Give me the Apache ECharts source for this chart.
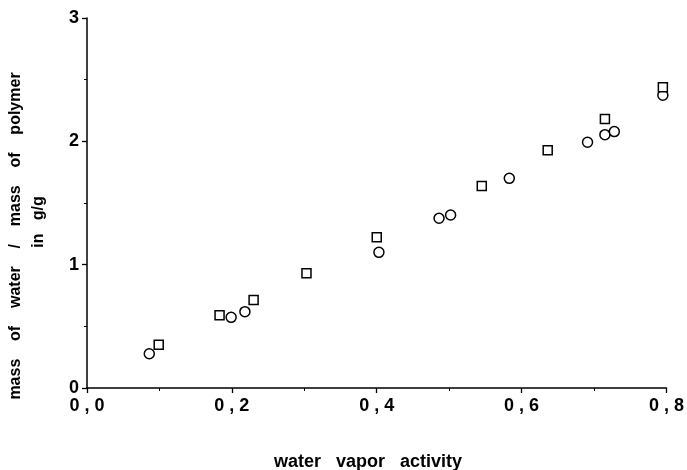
<!DOCTYPE html>
<html>
<head>
<meta charset="utf-8">
<script src="https://cdn.jsdelivr.net/npm/echarts@6/dist/echarts.min.js"></script>
<style>html,body{margin:0;padding:0;background:#fff;}#c{width:687px;height:470px;}</style>
</head>
<body>
<div id="c"></div>
<script>
// Circles series
var circleX = [0.086, 0.199, 0.218, 0.403, 0.486, 0.502, 0.583, 0.691, 0.715, 0.728, 0.795];
var circleY = [0.278, 0.573, 0.619, 1.100, 1.376, 1.403, 1.700, 1.993, 2.054, 2.079, 2.374];
// Squares series
var squareX = [0.099, 0.183, 0.230, 0.303, 0.400, 0.545, 0.636, 0.715, 0.795];
var squareY = [0.351, 0.589, 0.714, 0.930, 1.222, 1.638, 1.928, 2.182, 2.439];
// Axis texts
var xTitle = 'water   vapor   activity';
var yTitle1 = 'mass    of    water    /    mass    of    polymer';
var yTitle2 = 'in   g/g';

function pairs(xs, ys){ return xs.map(function(x,i){ return [x, ys[i]]; }); }

var FONT = '"Liberation Sans", Arial, Helvetica, sans-serif';
var chart = echarts.init(document.getElementById('c'), null, {renderer:'canvas'});
chart.setOption({
  backgroundColor: '#fff',
  animation: false,
  grid: {left: 87, right: 19, top: 18, bottom: 82},
  xAxis: {
    type: 'value', min: 0, max: 0.8, interval: 0.2,
    axisLine: {show: true, lineStyle: {color: '#000', width: 1.5}},
    axisTick: {show: true, length: 5, lineStyle: {color: '#000', width: 1.3}},
    minorTick: {show: true, splitNumber: 2, length: 3, lineStyle: {color: '#000', width: 1}},
    splitLine: {show: false},
    axisLabel: {
      margin: 9, color: '#000', fontFamily: FONT, fontWeight: 'bold', fontSize: 18,
      formatter: function(v){ return v.toFixed(1).replace('.', ' , '); }
    }
  },
  yAxis: {
    type: 'value', min: 0, max: 3, interval: 1,
    axisLine: {show: true, lineStyle: {color: '#000', width: 1.5}},
    axisTick: {show: true, length: 5, lineStyle: {color: '#000', width: 1.3}},
    minorTick: {show: true, splitNumber: 2, length: 3, lineStyle: {color: '#000', width: 1}},
    splitLine: {show: false},
    axisLabel: {
      margin: 8, color: '#000', fontFamily: FONT, fontWeight: 'bold', fontSize: 18
    }
  },
  series: [
    {
      type: 'scatter', symbol: 'circle', symbolSize: 10,
      itemStyle: {color: '#fff', borderColor: '#000', borderWidth: 1.5, opacity: 1},
      data: pairs(circleX, circleY)
    },
    {
      type: 'scatter', symbol: 'rect', symbolSize: 9,
      itemStyle: {color: '#fff', borderColor: '#000', borderWidth: 1.5, opacity: 1},
      data: pairs(squareX, squareY)
    }
  ],
  graphic: [
    {type: 'text', x: 368, y: 462,
     style: {text: xTitle, fill: '#000', font: 'bold 18px ' + FONT, textAlign: 'center', textVerticalAlign: 'middle'}},
    {type: 'text', x: 16, y: 236, rotation: Math.PI/2,
     style: {text: yTitle1, fill: '#000', font: 'bold 16px ' + FONT, textAlign: 'center', textVerticalAlign: 'middle'}},
    {type: 'text', x: 39, y: 222, rotation: Math.PI/2,
     style: {text: yTitle2, fill: '#000', font: 'bold 16px ' + FONT, textAlign: 'center', textVerticalAlign: 'middle'}}
  ]
});
</script>
</body>
</html>
